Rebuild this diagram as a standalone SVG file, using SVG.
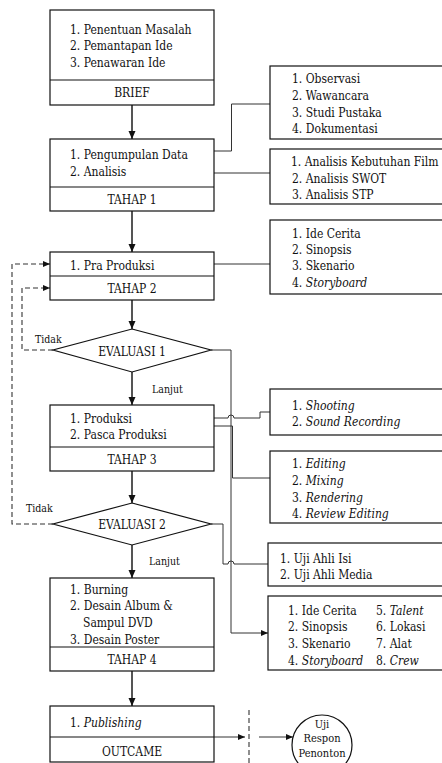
<svg xmlns="http://www.w3.org/2000/svg" width="442" height="763" viewBox="0 0 442 763">
<style>
text{font-family:'DejaVu Serif Condensed','DejaVu Serif',serif;font-size:12px;fill:#111}
.c{text-anchor:middle}
.s{font-size:10.5px}
.i{font-style:italic}
.box{fill:#fff;stroke:#111;stroke-width:1.2}
.div{stroke:#111;stroke-width:1.2}
.main{stroke:#555;stroke-width:2;fill:none}
.ln{stroke:#333;stroke-width:1;fill:none}
.dash{stroke:#333;stroke-width:1.1;fill:none;stroke-dasharray:5,3}
</style>
<defs>
<marker id="ah" viewBox="0 0 8 8" refX="8" refY="4" markerWidth="8" markerHeight="8" orient="auto" markerUnits="userSpaceOnUse"><path d="M0,0.5 L8,4 L0,7.5 z" fill="#111"/></marker>
<marker id="as" viewBox="0 0 7 6" refX="7" refY="3" markerWidth="7" markerHeight="6" orient="auto" markerUnits="userSpaceOnUse"><path d="M0,0 L7,3 L0,6 z" fill="#111"/></marker>
</defs>

<g id="connectors">
<path class="main" d="M132,105 V139" marker-end="url(#ah)"/>
<path class="main" d="M132,211 V252" marker-end="url(#ah)"/>
<path class="main" d="M132,300 V329" marker-end="url(#ah)"/>
<path class="main" d="M132,372 V405" marker-end="url(#ah)"/>
<path class="main" d="M132,471 V503" marker-end="url(#ah)"/>
<path class="main" d="M132,545 V578" marker-end="url(#ah)"/>
<path class="main" d="M132,671 V706" marker-end="url(#ah)"/>
<path class="dash" d="M53,524 H12 V264 H50" marker-end="url(#as)"/>
<path class="dash" d="M53,350 H22 V288 H50" marker-end="url(#as)"/>
<path class="ln" d="M214,151 H231.5 V104 H270"/>
<path class="ln" d="M214,173 H270"/>
<path class="ln" d="M214,264 H270"/>
<path class="ln" d="M211,350 H231 V633 H268" marker-end="url(#as)"/>
<path class="ln" d="M214,418 H228 a3,3 0 0 1 6,0 H260 V412 H270"/>
<path class="ln" d="M214,426 H232.5 V478 H270"/>
<path class="ln" d="M211,524 H223 V564 H228 a3,3 0 0 1 6,0 H268"/>
<path class="ln" d="M214,737 H245" marker-end="url(#as)"/>
<path class="dash" d="M249,710 V763"/>
<path class="ln" d="M259,737 H293" marker-end="url(#as)"/>
</g>

<g id="brief">
<rect class="box" x="50" y="10" width="164" height="95"/>
<line class="div" x1="50" y1="80" x2="214" y2="80"/>
<text x="70" y="33.5">1. Penentuan Masalah</text>
<text x="70" y="50">2. Pemantapan Ide</text>
<text x="70" y="66.5">3. Penawaran Ide</text>
<text class="c" x="132" y="97">BRIEF</text>
</g>

<g id="tahap1">
<rect class="box" x="50" y="139" width="164" height="72"/>
<line class="div" x1="50" y1="187" x2="214" y2="187"/>
<text x="70" y="158.5">1. Pengumpulan Data</text>
<text x="70" y="175.5">2. Analisis</text>
<text class="c" x="132" y="203.5">TAHAP 1</text>
</g>

<g id="tahap2">
<rect class="box" x="50" y="252" width="164" height="48"/>
<line class="div" x1="50" y1="276" x2="214" y2="276"/>
<text x="70" y="269.5">1. Pra Produksi</text>
<text class="c" x="132" y="292.5">TAHAP 2</text>
</g>

<g id="evaluasi1">
<polygon class="box" points="132,329 211,350 132,372 53,350"/>
<text class="c" x="132" y="355.5">EVALUASI 1</text>
<text class="s" x="35" y="343">Tidak</text>
<text class="s" x="152" y="393">Lanjut</text>
</g>

<g id="tahap3">
<rect class="box" x="50" y="405" width="164" height="66"/>
<line class="div" x1="50" y1="447" x2="214" y2="447"/>
<text x="70" y="422.5">1. Produksi</text>
<text x="70" y="438.5">2. Pasca Produksi</text>
<text class="c" x="132" y="463.5">TAHAP 3</text>
</g>

<g id="evaluasi2">
<polygon class="box" points="132,503 211,524 132,545 53,524"/>
<text class="c" x="132" y="528.5">EVALUASI 2</text>
<text class="s" x="26" y="512">Tidak</text>
<text class="s" x="149" y="565">Lanjut</text>
</g>

<g id="tahap4">
<rect class="box" x="50" y="578" width="164" height="93"/>
<line class="div" x1="50" y1="647" x2="214" y2="647"/>
<text x="70" y="593.5">1. Burning</text>
<text x="70" y="609.5">2. Desain Album &amp;</text>
<text x="83" y="626.5">Sampul DVD</text>
<text x="70" y="643.5">3. Desain Poster</text>
<text class="c" x="132" y="663.5">TAHAP 4</text>
</g>

<g id="outcame">
<rect class="box" x="50" y="706" width="164" height="56"/>
<line class="div" x1="50" y1="737" x2="214" y2="737"/>
<text x="70" y="726.5">1. <tspan class="i">Publishing</tspan></text>
<text class="c" x="132" y="755.5">OUTCAME</text>
</g>

<g id="observasi">
<rect class="box" x="270" y="66" width="180" height="73"/>
<text x="292" y="83">1. Observasi</text>
<text x="292" y="99.5">2. Wawancara</text>
<text x="292" y="116.5">3. Studi Pustaka</text>
<text x="292" y="132.5">4. Dokumentasi</text>
</g>

<g id="analisis">
<rect class="box" x="270" y="149" width="180" height="55"/>
<text x="291" y="165.5">1. Analisis Kebutuhan Film</text>
<text x="292" y="182.5">2. Analisis SWOT</text>
<text x="292" y="198.5">3. Analisis STP</text>
</g>

<g id="praproduksi">
<rect class="box" x="270" y="220" width="180" height="74"/>
<text x="292" y="237.5">1. Ide Cerita</text>
<text x="292" y="253.5">2. Sinopsis</text>
<text x="292" y="269.5">3. Skenario</text>
<text x="292" y="286.5">4. <tspan class="i">Storyboard</tspan></text>
</g>

<g id="produksi">
<rect class="box" x="270" y="389" width="180" height="46"/>
<text x="292" y="409.5">1. <tspan class="i">Shooting</tspan></text>
<text x="292" y="425.5">2. <tspan class="i">Sound Recording</tspan></text>
</g>

<g id="pasca">
<rect class="box" x="270" y="451" width="180" height="72"/>
<text x="292" y="467.5">1. <tspan class="i">Editing</tspan></text>
<text x="292" y="484.5">2. <tspan class="i">Mixing</tspan></text>
<text x="292" y="501.5">3. <tspan class="i">Rendering</tspan></text>
<text x="292" y="517.5">4. <tspan class="i">Review Editing</tspan></text>
</g>

<g id="ujiahli">
<rect class="box" x="268" y="543" width="182" height="43"/>
<text x="280" y="562.5">1. Uji Ahli Isi</text>
<text x="280" y="578.5">2. Uji Ahli Media</text>
</g>

<g id="evaluasi-list">
<rect class="box" x="268" y="596" width="182" height="74"/>
<text x="288" y="614.5">1. Ide Cerita</text>
<text x="288" y="630.5">2. Sinopsis</text>
<text x="288" y="647.5">3. Skenario</text>
<text x="288" y="664.5">4. <tspan class="i">Storyboard</tspan></text>
<text x="376" y="614.5">5. <tspan class="i">Talent</tspan></text>
<text x="376" y="630.5">6. Lokasi</text>
<text x="376" y="647.5">7. Alat</text>
<text x="376" y="664.5">8. <tspan class="i">Crew</tspan></text>
</g>

<g id="uji-respon">
<circle class="box" cx="322" cy="745" r="30"/>
<text class="c" x="322" y="728" style="font-size:11px">Uji</text>
<text class="c" x="322" y="742" style="font-size:11px">Respon</text>
<text class="c" x="322" y="757" style="font-size:11px">Penonton</text>
</g>
</svg>
